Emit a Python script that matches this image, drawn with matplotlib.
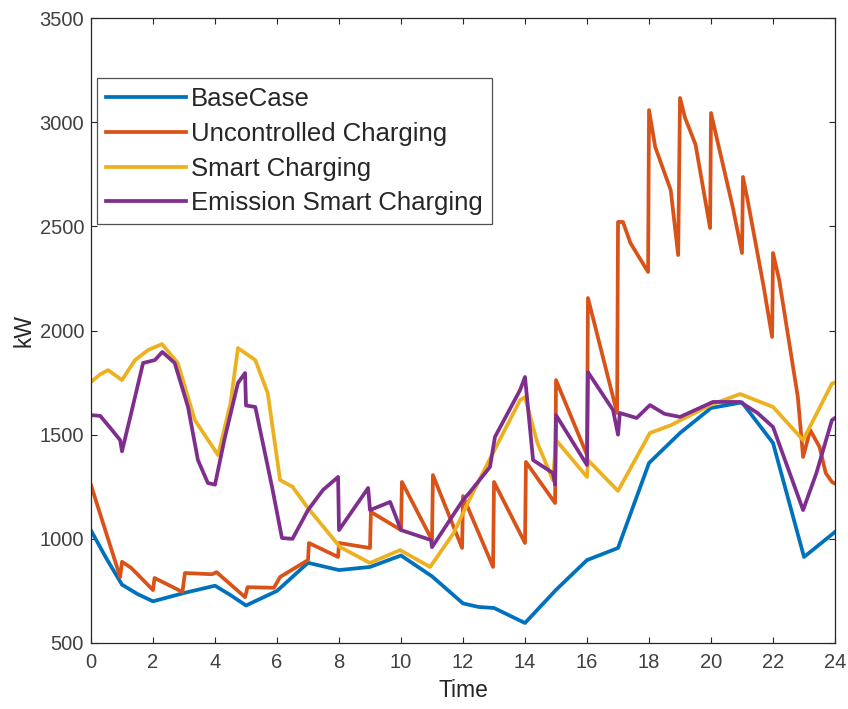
import matplotlib
matplotlib.use("Agg")
import matplotlib.pyplot as plt

plt.rcParams['font.family'] = ['Liberation Sans', 'DejaVu Sans']

# hourly load profiles (kW)
base_t = [0, 0.5, 1, 1.5, 2, 3, 4, 4.5, 5, 6, 7, 8, 9, 10, 11, 12, 12.5, 13, 14, 15, 16, 17,
          18, 19, 20, 21, 22, 23, 24]
base_kw = [1040, 905, 780, 735, 700, 740, 775, 730, 680, 750, 885, 850, 865, 920, 820, 690, 673,
           668, 596, 755, 898, 956, 1364, 1508, 1628, 1655, 1460, 913, 1033]

unc_t = [0, 0.94, 1.0, 1.3, 2.0, 2.05, 2.95, 3.03, 3.9, 4.05, 4.97, 5.05, 5.9, 6.1, 7.0, 7.03,
         7.97, 8.0, 9.0, 9.03, 10.0, 10.03, 11.0, 11.03, 11.97, 12.0, 12.97, 13.0, 14.0, 14.03,
         14.97, 15.0, 16.0, 16.03, 16.5, 16.97, 17.0, 17.16, 17.4, 17.97, 18.0, 18.2, 18.7,
         18.94, 19.0, 19.16, 19.5, 19.97, 20.0, 20.2, 20.7, 21.0, 21.03, 21.16, 21.7, 21.97,
         22.0, 22.2, 22.8, 22.97, 23.2, 23.5, 23.7, 23.9, 24]
unc_kw = [1258, 817, 890, 860, 754, 812, 745, 836, 830, 840, 720, 768, 765, 817, 898, 980,
          913, 980, 956, 1129, 1042, 1273, 994, 1306, 956, 1205, 865, 1273, 980, 1369,
          1172, 1762, 1402, 2156, 1880, 1604, 2521, 2521, 2420, 2281, 3058, 2881, 2674,
          2362, 3116, 3022, 2893, 2492, 3044, 2914, 2593, 2372, 2737, 2642, 2209, 1969,
          2372, 2242, 1681, 1393, 1522, 1441, 1316, 1273, 1265]

smart_t = [0, 0.3, 0.55, 1.0, 1.42, 1.84, 2.29, 2.8, 3.35, 4.1, 4.5, 4.74, 5.3, 5.7, 6.1, 6.5,
           6.97, 8.03, 9.0, 9.97, 10.94, 11.7, 12.2, 12.8, 13.84, 14.0, 14.4, 14.9, 15.0, 16.0,
           16.03, 17.0, 18.03, 18.7, 19.97, 20.94, 22.0, 22.97, 23.9, 24]
smart_kw = [1753, 1790, 1810, 1762, 1858, 1906, 1935, 1844, 1570, 1402, 1650, 1916, 1858, 1700,
            1282, 1250, 1153, 961, 884, 946, 865, 1028, 1186, 1364, 1666, 1680, 1460, 1282,
            1474, 1297, 1378, 1230, 1508, 1545, 1642, 1695, 1633, 1474, 1745, 1750]

emis_t = [0, 0.3, 0.68, 0.94, 1.0, 1.32, 1.68, 2.06, 2.3, 2.7, 3.13, 3.45, 3.77, 4.0, 4.3, 4.74,
          4.97, 5.0, 5.3, 5.84, 6.16, 6.5, 7.0, 7.48, 7.97, 8.0, 8.94, 9.0, 9.65, 10.0, 10.97,
          11.0, 12.0, 12.2, 12.87, 13.03, 13.84, 14.0, 14.26, 14.9, 14.97, 15.0, 16.0, 16.03,
          16.84, 17.0, 17.06, 17.6, 18.03, 18.5, 19.0, 20.06, 20.94, 21.5, 22.0, 22.97, 23.4,
          23.9, 24]
emis_kw = [1594, 1590, 1522, 1474, 1420, 1618, 1844, 1858, 1897, 1844, 1633, 1378, 1268, 1260,
           1474, 1748, 1796, 1640, 1633, 1249, 1004, 1000, 1138, 1234, 1297, 1042, 1244, 1138,
           1177, 1042, 994, 960, 1186, 1220, 1345, 1489, 1714, 1777, 1378, 1316, 1260, 1594,
           1354, 1800, 1618, 1500, 1604, 1580, 1642, 1600, 1585, 1657, 1657, 1604, 1537, 1138,
           1316, 1570, 1580]

labels = ['BaseCase', 'Uncontrolled Charging', 'Smart Charging', 'Emission Smart Charging']
colors = ['#0072BD', '#D95319', '#EDB120', '#7E2F8E']

fig = plt.figure(figsize=(8.48, 7.09), dpi=100)
ax = fig.add_axes([0.1073, 0.0931, 0.8774, 0.8815])

series = [(base_t, base_kw), (unc_t, unc_kw), (smart_t, smart_kw), (emis_t, emis_kw)]
for (t, kw), lab, c in zip(series, labels, colors):
    ax.plot(t, kw, color=c, lw=2.7, label=lab)

ax.set_xlim(0, 24)
ax.set_ylim(500, 3500)
ax.set_xticks(range(0, 25, 2))
ax.set_yticks(range(500, 3501, 500))
ax.tick_params(direction='in', length=4, width=0.8, top=True, right=True,
               labelsize=14.5, labelcolor='#404040', color='#262626')
ax.tick_params(axis='x', pad=7)
ax.tick_params(axis='y', pad=5)
for s in ax.spines.values():
    s.set_color('#262626')
    s.set_linewidth(0.9)

ax.set_xlabel('Time', fontsize=16.5, color='#262626', labelpad=5)
ax.set_ylabel('kW', fontsize=16.5, color='#262626', labelpad=3)

leg = ax.legend(loc='upper left', bbox_to_anchor=(0.008, 0.904), fontsize=18.5,
                frameon=True, fancybox=False, edgecolor='#262626', handlelength=3.1,
                handletextpad=0.22, labelspacing=0.42, borderpad=0.35, borderaxespad=0)
leg.get_frame().set_linewidth(0.9)
for txt in leg.get_texts():
    txt.set_color('#262626')

fig.savefig('out.png', dpi=100)
